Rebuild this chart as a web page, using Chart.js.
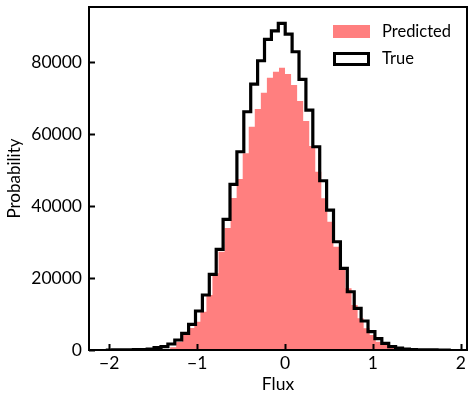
<!DOCTYPE html>
<html>
<head>
<meta charset="utf-8">
<script src="https://cdn.jsdelivr.net/npm/chart.js@4.4.0/dist/chart.umd.min.js"></script>
<style>
  html, body { margin: 0; padding: 0; background: #fff; }
</style>
</head>
<body>
<canvas id="flux-hist" width="475" height="403"></canvas>
<script>
// histogram bins (50 each)
const trueStart = -2.039, trueWidth = 0.0785;
const predStart = -1.72, predWidth = 0.0688;

const trueCounts = [0, 0, 10, 20, 40, 80, 140, 280, 640, 920,
  1670, 2780, 4640, 7140, 10830, 15280, 21030, 27970, 36300, 46030,
  55080, 66190, 73890, 80360, 86310, 88690, 90750, 87780, 82860, 75190,
  66670, 56470, 47030, 38890, 30080, 22690, 16190, 11580, 8060, 5080,
  3140, 1860, 920, 550, 280, 140, 60, 30, 10, 5];

const predCounts = [0, 0, 5, 10, 30, 100, 300, 750, 2300, 4170,
  6100, 7860, 10640, 15280, 21300, 27300, 33900, 42200, 47500, 54700,
  62030, 66940, 71470, 75640, 77310, 78420, 76670, 73610, 69170, 63610,
  56670, 49530, 42140, 35640, 28700, 22780, 17140, 12500, 8800, 6030,
  4170, 2300, 1390, 750, 350, 150, 60, 20, 10, 5];

const xTicks = [-2, -1, 0, 1, 2];
const yTicks = [0, 20000, 40000, 60000, 80000];
const labels = ['Predicted', 'True'];

// step points for a histogram: up at first edge, down at last edge
function stepPoints(start, width, counts) {
  const pts = [{ x: start, y: 0 }];
  counts.forEach(function (c, i) {
    pts.push({ x: start + i * width, y: c });
  });
  pts.push({ x: start + counts.length * width, y: 0 });
  return pts;
}

const FONT = 'Lato';

const frameAndTicks = {
  id: 'frameAndTicks',
  afterDatasetsDraw(chart) {
    const ctx = chart.ctx;
    const a = chart.chartArea;
    const xs = chart.scales.x, ys = chart.scales.y;
    ctx.save();
    ctx.strokeStyle = '#000';
    ctx.lineWidth = 2;
    ctx.strokeRect(a.left, a.top, a.right - a.left, a.bottom - a.top);
    ctx.beginPath();
    xTicks.forEach(function (v) {
      const px = Math.round(xs.getPixelForValue(v)) + 0.5;
      ctx.moveTo(px, a.bottom);
      ctx.lineTo(px, a.bottom - 6);
    });
    yTicks.forEach(function (v) {
      const py = Math.round(ys.getPixelForValue(v)) + 0.5;
      ctx.moveTo(a.left, py);
      ctx.lineTo(a.left + 6, py);
    });
    ctx.stroke();

    // legend, upper right
    const lx = a.right - 134;
    ctx.font = '16.5px ' + FONT;
    ctx.textBaseline = 'middle';
    ctx.fillStyle = 'rgba(255,0,0,0.5)';
    ctx.fillRect(lx, a.top + 18, 37, 13);
    ctx.lineWidth = 3;
    ctx.strokeStyle = '#000';
    ctx.strokeRect(lx + 1.5, a.top + 46.5, 34, 11);
    ctx.fillStyle = '#000';
    ctx.fillText(labels[0], lx + 49, a.top + 25);
    ctx.fillText(labels[1], lx + 49, a.top + 52);
    ctx.restore();
  }
};

new Chart(document.getElementById('flux-hist'), {
  type: 'line',
  data: {
    datasets: [{
      label: labels[0],
      data: stepPoints(predStart, predWidth, predCounts),
      stepped: 'after',
      fill: 'origin',
      backgroundColor: 'rgba(255,0,0,0.5)',
      borderWidth: 0,
      pointRadius: 0,
      order: 1
    }, {
      label: labels[1],
      data: stepPoints(trueStart, trueWidth, trueCounts),
      stepped: 'after',
      fill: false,
      borderColor: '#000',
      borderWidth: 3.2,
      pointRadius: 0,
      order: 0
    }]
  },
  options: {
    responsive: false,
    animation: false,
    layout: { padding: { top: 7, right: 8, left: 0, bottom: 0 } },
    plugins: { legend: { display: false }, tooltip: { enabled: false } },
    scales: {
      x: {
        type: 'linear',
        min: -2.23,
        max: 2.07,
        afterFit: function (s) { s.height = 53; s.paddingLeft = 0; s.paddingRight = 0; },
        afterBuildTicks: function (s) { s.ticks = xTicks.map(function (v) { return { value: v }; }); },
        ticks: {
          color: '#000',
          padding: 3,
          font: { family: FONT, size: 17.5 },
          callback: function (v) { return String(v).replace('-', '\u2212'); }
        },
        grid: { display: false, drawTicks: false },
        border: { display: false },
        title: { display: true, text: 'Flux', color: '#000', font: { family: FONT, size: 17.5 }, padding: { top: 0, bottom: 8 } }
      },
      y: {
        type: 'linear',
        min: 0,
        max: 95300,
        afterFit: function (s) { s.width = 89; s.paddingTop = 0; s.paddingBottom = 0; },
        afterBuildTicks: function (s) { s.ticks = yTicks.map(function (v) { return { value: v }; }); },
        ticks: {
          color: '#000',
          padding: 7,
          font: { family: FONT, size: 17.5 },
          callback: function (v) { return String(v); }
        },
        grid: { display: false, drawTicks: false },
        border: { display: false },
        title: { display: true, text: 'Probability', color: '#000', font: { family: FONT, size: 17 }, padding: { top: 4, bottom: 0 } }
      }
    }
  },
  plugins: [frameAndTicks]
});
</script>
</body>
</html>
